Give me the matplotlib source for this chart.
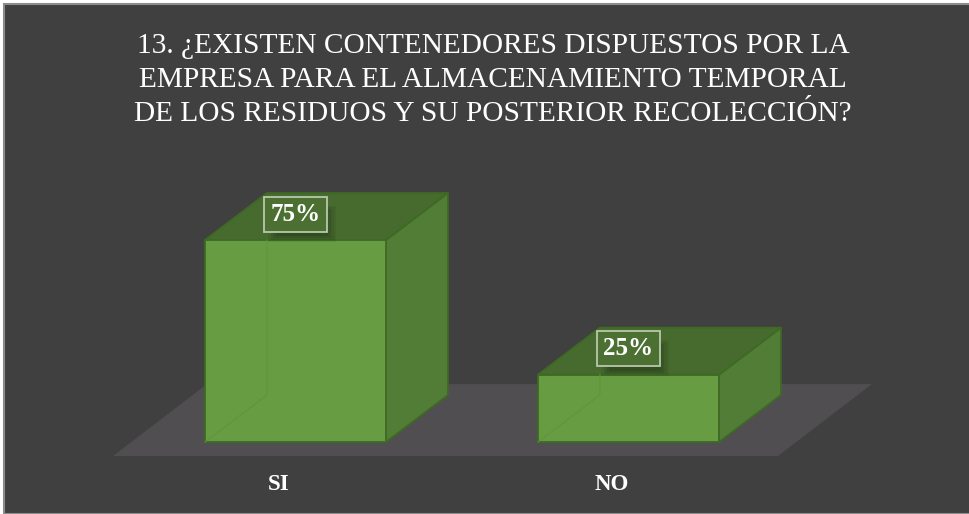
import matplotlib
matplotlib.use("Agg")
import matplotlib.pyplot as plt
from matplotlib.patches import Polygon, Rectangle

# ---- data ----
categories = ["SI", "NO"]
values = [75, 25]
value_labels = ["75%", "25%"]
title_lines = [
    "13. ¿EXISTEN CONTENEDORES DISPUESTOS POR LA",
    "EMPRESA PARA EL ALMACENAMIENTO TEMPORAL",
    "DE LOS RESIDUOS Y SU POSTERIOR RECOLECCIÓN?",
]

# ---- style ----
W, H = 969, 514
BG = "#404040"
FLOOR = "#504e50"
FRONT = "#679c42"
TOP = "#476b2e"
SIDE = "#517d36"
EDGE = "#3e6a24"
SERIF = ["Liberation Serif", "DejaVu Serif"]

fig = plt.figure(figsize=(W / 100, H / 100), dpi=100)
fig.patch.set_facecolor("white")
fig.add_artist(Rectangle((4 / W, 0), 1, 1 - 4 / H, transform=fig.transFigure,
                         facecolor=BG, edgecolor="#8c8c8c", lw=1.5, zorder=0))

ax = fig.add_axes([129 / W, 72 / H, 666 / W, 269.3 / H])
ax.set_xlim(-0.5, 1.5)
ax.set_ylim(0, 100)
ax.axis("off")
ax.patch.set_alpha(0)

bar_w = 0.5435
ddx, ddy = 0.186, 17.45  # 3D depth in data units

# floor
fx0, fx1, fy = -0.548, 1.449, -5.2
fdx, fdy = 0.282, 26.7
ax.add_patch(Polygon([(fx0, fy), (fx1, fy), (fx1 + fdx, fy + fdy), (fx0 + fdx, fy + fdy)],
                     closed=True, facecolor=FLOOR, edgecolor="none", zorder=1, clip_on=False))

box_w, box_h = 0.195, 13.4  # label box size in data units (for shadow)

for i, (v, lab) in enumerate(zip(values, value_labels)):
    x0, x1 = i - bar_w / 2, i + bar_w / 2
    side = [(x1, 0), (x1 + ddx, ddy), (x1 + ddx, v + ddy), (x1, v)]
    top = [(x0, v), (x0 + ddx, v + ddy), (x1 + ddx, v + ddy), (x1, v)]
    front = [(x0, 0), (x1, 0), (x1, v), (x0, v)]
    kw = dict(closed=True, edgecolor=EDGE, lw=1.3, clip_on=False, joinstyle="round")
    ax.add_patch(Polygon(side, facecolor=SIDE, zorder=3, **kw))
    ax.add_patch(Polygon(top, facecolor=TOP, zorder=3, **kw))
    ax.add_patch(Polygon(front, facecolor=FRONT, zorder=4, **kw))
    # faint hidden back edges seen through the bar
    ax.plot([x0, x0 + ddx, x0 + ddx], [0, ddy, v], color="#5f9439", lw=0.9,
            alpha=0.8, zorder=5, clip_on=False)

    ly = v + ddy * 0.55
    # soft shadow under the label box
    for k, a in enumerate([0.08, 0.10, 0.12, 0.14]):
        sw = box_w * (1.05 - 0.08 * k)
        sh = box_h * (1.0 - 0.1 * k)
        ax.add_patch(Rectangle((i + 0.02 - sw / 2, ly - 3.5 - sh / 2), sw, sh,
                               facecolor="#142010", edgecolor="none", alpha=a,
                               zorder=5, clip_on=False))
    ax.text(i, ly, lab, ha="center", va="center", fontsize=18, fontweight="bold",
            family=SERIF, color="white", zorder=6,
            bbox=dict(boxstyle="square,pad=0.24", facecolor="#4b7032",
                      edgecolor="#b9c8ac", lw=1.3))

    # category label
    ax.annotate(categories[i], xy=(i, 0), xytext=(-17, -42), textcoords="offset pixels",
                ha="center", va="center", fontsize=16.5, fontweight="bold",
                family=SERIF, color="white", zorder=6, annotation_clip=False)

for k, line in enumerate(title_lines):
    fig.text(493 / W, 1 - (53 + 34 * k) / H, line, ha="center", va="baseline",
             fontsize=21.2, family=SERIF, color="white")

fig.savefig("out.png", dpi=100, facecolor=fig.get_facecolor())
